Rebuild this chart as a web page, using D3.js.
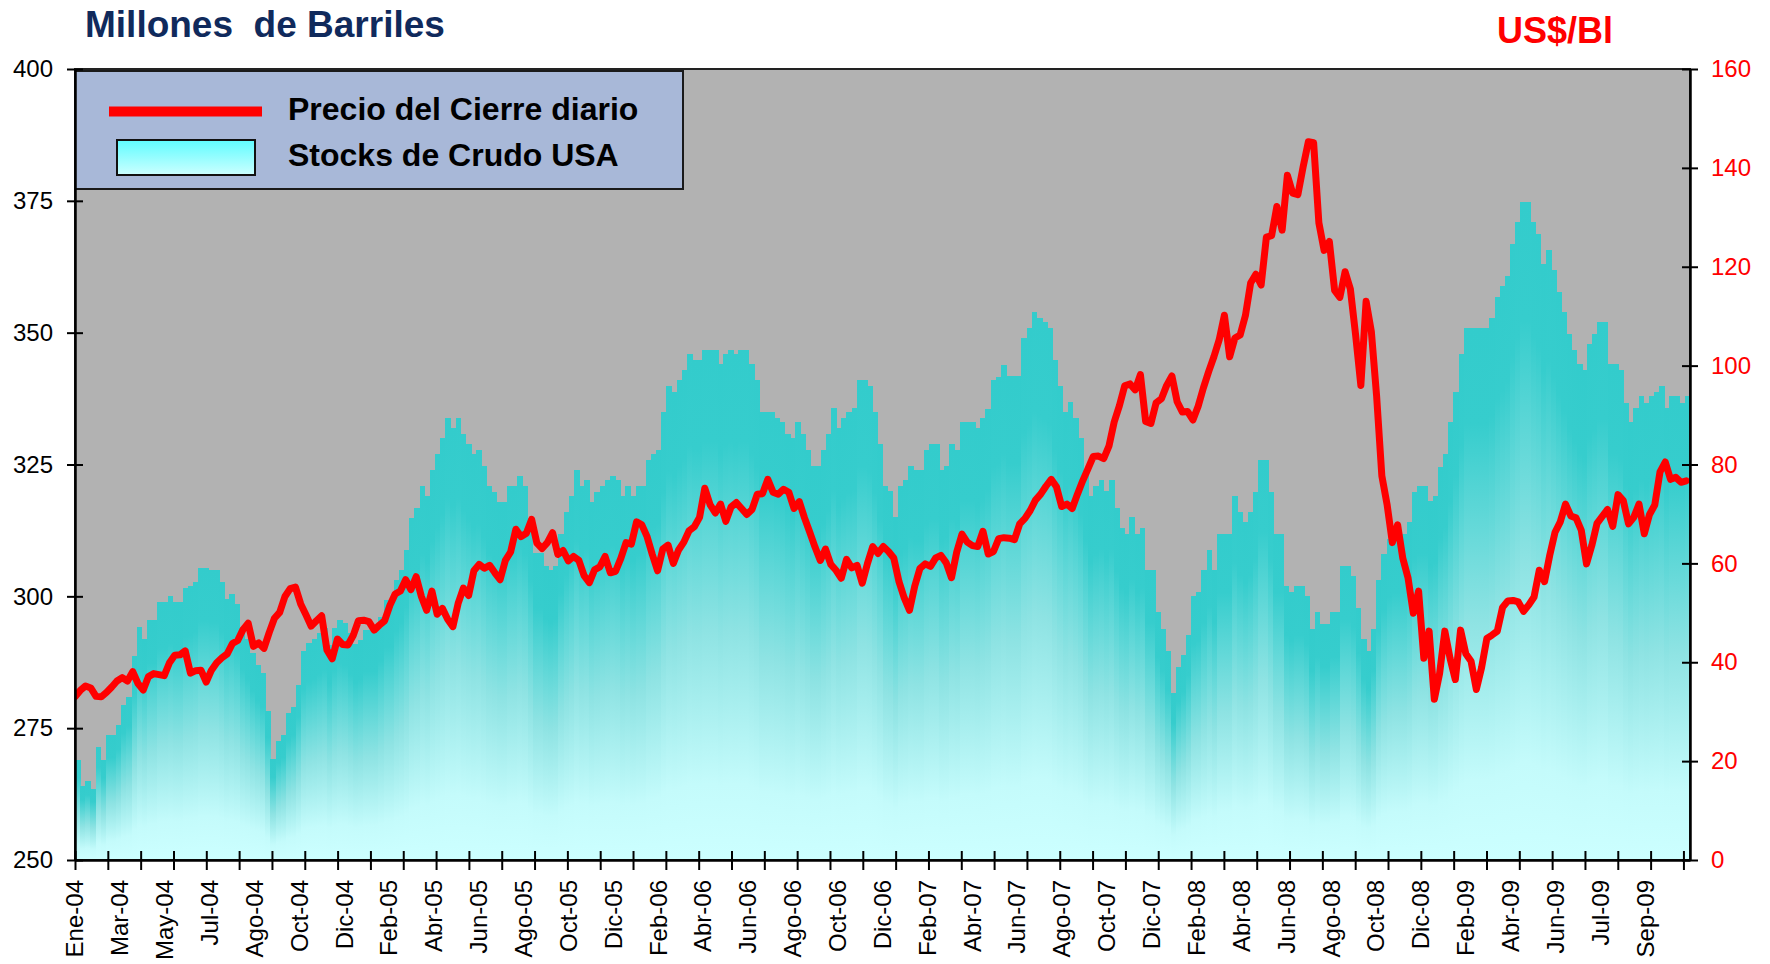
<!DOCTYPE html>
<html>
<head>
<meta charset="utf-8">
<script src="https://cdn.jsdelivr.net/npm/d3@7"></script>
<style>
  html, body { margin: 0; padding: 0; background: #fff; }
  svg { display: block; font-family: "Liberation Sans", Arial, sans-serif; }
</style>
</head>
<body>
<div id="chart"></div>
<script>
const chartTitle = "Millones  de Barriles";
const rightTitle = "US$/Bl";
const legendLabels = ["Precio del Cierre diario", "Stocks de Crudo USA"];

const xLabels = ["Ene-04","Mar-04","May-04","Jul-04","Ago-04","Oct-04","Dic-04",
  "Feb-05","Abr-05","Jun-05","Ago-05","Oct-05","Dic-05",
  "Feb-06","Abr-06","Jun-06","Ago-06","Oct-06","Dic-06",
  "Feb-07","Abr-07","Jun-07","Ago-07","Oct-07","Dic-07",
  "Feb-08","Abr-08","Jun-08","Ago-08","Oct-08","Dic-08",
  "Feb-09","Abr-09","Jun-09","Jul-09","Sep-09"];
const leftTicks = [250, 275, 300, 325, 350, 375, 400];
const rightTicks = [0, 20, 40, 60, 80, 100, 120, 140, 160];

// weekly US crude stocks (millions of barrels)
const stockValues = [
  269, 264, 265, 263.5, 271.5, 269, 273.7, 273.7, 275.6, 279.4, 281, 288.6, 294.1, 291.9,
  295.5, 295.5, 299, 299, 300.1, 299, 299, 301.6, 301.9, 302.8, 305.4, 305.4, 305, 305,
  302.8, 299.4, 300.4, 298.5, 294.2, 292, 289.2, 287, 285.4, 278.3, 269.2, 272.5, 273.7,
  277.8, 279, 283.2, 289.6, 291.2, 291.9, 293, 294, 290.8, 294, 295.6, 295, 293,
  291, 291.8, 293.6, 293.6, 293.6, 296.1, 299.3, 299.3, 303.1, 305, 308.8, 314.8, 316.7,
  320.9, 319, 324, 327, 330, 333.8, 331.9, 333.8, 330.8, 328.9, 327, 327.8, 324.7, 320.9,
  319.7, 317.9, 317.9, 320.9, 320.9, 322.8, 320.9, 314.8, 308.3, 308.3, 305.8, 305, 305.8,
  311.9, 316, 319, 324, 320.9, 322, 317.9, 319.7, 320.9,
  322, 322.8, 322, 319.1, 320.9, 319.1, 320.9, 320.9, 325.9, 327, 327.8, 335, 339.9, 338.7,
  341, 342.9, 346, 344.8, 344.8, 346.7, 346.7, 346.7, 344, 346, 346.7, 346, 346.7, 346.7,
  344, 341, 335, 335, 335, 333.8, 333.1, 330.8, 330, 333.1, 330.8, 327.8, 324.7, 324.7,
  327.8, 330.8, 335.7, 331.9, 333.8, 335, 335.7, 341, 341, 339.9, 335, 328.9,
  320.9, 319.9, 315, 320.9, 322, 324.7, 324, 324, 327.8, 328.9, 328.9, 324, 324.7, 328.9,
  327.8, 333.1, 333.1, 333.1, 331.9, 333.8, 335.6, 341, 341.6, 343.9, 341.8, 341.8, 341.8,
  348.9, 350.8, 353.9, 352.7, 352, 350.8, 344.8, 339.9, 335, 336.9, 333.8, 330, 324, 319,
  320.9, 322, 319.9, 322, 316.8, 313, 311.9, 315, 311.9, 313, 305, 305,
  297, 293.9, 289.6, 281.7, 286.6, 288.9, 292.7, 300, 300.8, 304.9, 308.8, 304.9, 311.8,
  311.8, 311.8, 319, 315.9, 314.1, 315.9, 319.8, 325.9, 325.9, 319.8, 311.8, 311.8, 302,
  300.8, 302, 302, 300, 293.9, 297, 294.7, 294.7, 297, 297, 305.7, 305.7, 303.9, 297.8,
  291.9, 289.7, 293.9, 303.1, 308, 310.8, 311.8, 311.8, 311.8, 314.1, 319.8,
  320.9, 320.9, 318, 319, 324.6, 327, 333, 338.8, 346, 350.9, 350.9, 350.9, 350.9, 350.9,
  352.7, 356.8, 358.9, 360.7, 366.8, 371, 374.8, 374.8, 371, 368.7, 363.1, 365.6, 361.8,
  357.7, 353.9, 349.8, 346.8, 344, 342.9, 347.8, 349.7, 352, 352, 344, 344, 342.9, 336.7,
  333.1, 335.7, 338, 336.7, 338, 338.8, 339.8, 335.7, 338, 338, 336.7, 338
];

// weekly closing price (US$/Bl), one value per Friday from 2 Jan 2004
const price2004 = [33.0, 34.3, 35.2, 34.8, 33.1, 33.0, 33.9, 35.0, 36.2, 36.9, 36.2, 38.1, 35.7,
  34.4, 37.1, 37.7, 37.5, 37.3, 39.9, 41.4, 41.5, 42.3, 37.8, 38.3, 38.4, 36.0,
  38.4, 39.9, 40.9, 41.7, 43.8, 44.4, 46.6, 47.9, 43.2, 43.9, 42.8, 46.0, 48.9,
  50.1, 53.3, 54.9, 55.2, 51.8, 49.6, 47.3, 48.4, 49.4, 42.5, 40.7, 44.7, 43.6, 43.5];
const price2005 = [45.4, 48.4, 48.5, 48.2, 46.5, 47.5, 48.4, 51.5, 53.8, 54.4, 56.7, 54.7,
  57.3, 53.3, 50.5, 54.4, 49.7, 50.9, 48.7, 47.2, 51.9, 55.0, 53.5, 58.5, 59.8,
  59.0, 59.6, 58.1, 56.7, 60.6, 62.3, 66.9, 65.4, 66.1, 68.9, 64.1, 63.0, 64.2, 66.2,
  61.8, 62.6, 60.5, 61.4, 60.6, 57.5, 56.1, 58.7, 59.3, 61.4, 58.1, 58.4, 61.0];
const price2006 = [64.2, 63.9, 68.4, 67.8, 65.4, 61.8, 58.5, 62.9, 63.7, 60.0, 62.7, 64.3, 66.6,
  67.4, 69.3, 75.2, 71.9, 70.2, 72.0, 68.5, 71.4, 72.3, 71.1, 69.9, 70.9, 74.0,
  74.1, 77.0, 74.4, 74.0, 75.0, 74.4, 71.1, 72.5, 69.2, 66.3, 63.3, 60.6, 62.9,
  59.8, 58.6, 57.0, 60.8, 59.1, 59.6, 56.0, 60.0, 63.4, 62.0, 63.4, 62.4, 61.1];
const price2007 = [56.3, 53.0, 50.5, 55.4, 59.0, 59.9, 59.4, 61.1, 61.6, 60.1, 57.1, 62.3, 65.9,
  64.3, 63.6, 63.4, 66.5, 61.9, 62.4, 65.0, 65.2, 65.1, 64.8, 68.0, 69.1, 70.7,
  72.8, 74.0, 75.6, 77.0, 75.5, 71.5, 72.0, 71.1, 74.0, 76.7, 79.1, 81.6, 81.7,
  81.2, 83.7, 88.6, 91.9, 95.9, 96.3, 95.1, 98.2, 88.7, 88.3, 92.5, 93.3, 96.0];
const price2008 = [97.9, 92.7, 90.6, 90.7, 89.0, 91.8, 95.5, 98.8, 101.8, 105.2, 110.2, 101.8, 105.6,
  106.2, 110.1, 116.7, 118.5, 116.3, 126.0, 126.3, 132.2, 127.4, 138.5, 134.9, 134.6, 140.2,
  145.3, 145.1, 128.9, 123.3, 125.1, 115.2, 113.8, 119.0, 115.5, 106.2, 96.0, 113.0, 106.9,
  93.9, 77.7, 71.9, 64.2, 67.8, 61.0, 57.0, 49.9, 54.4, 40.8, 46.3, 32.5, 37.7];
const price2009 = [46.3, 40.8, 36.5, 46.5, 41.7, 40.2, 34.5, 38.9, 44.8, 45.5, 46.3, 51.1, 52.4,
  52.5, 52.2, 50.3, 51.6, 53.2, 58.6, 56.3, 61.7, 66.3, 68.4, 72.0, 69.6, 69.2,
  66.7, 59.9, 63.6, 68.1, 69.5, 70.9, 67.5, 73.9, 72.7, 68.0, 69.3, 72.0, 66.0,
  69.9, 71.8, 78.5, 80.5, 77.0, 77.4, 76.4, 76.7];
const priceValues = [].concat(price2004, price2005, price2006, price2007, price2008, price2009);

const priceStart = new Date(2004, 0, 2);
const axisEnd = new Date(2009, 10, 25);
// category axis of the source sheet: daily rows, a tick every 30, a label every 41
const totalRows = 1476, tickEvery = 30, labelEvery = 41;

const W = 1770, H = 964;
const margin = {top: 69, right: 80, bottom: 104, left: 75};
const plotW = W - margin.left - margin.right;
const plotH = H - margin.top - margin.bottom;

const svg = d3.select("#chart").append("svg")
  .attr("width", W)
  .attr("height", H);

const defs = svg.append("defs");
const grad = defs.append("linearGradient")
  .attr("id", "stockGrad")
  .attr("x1", 0).attr("y1", 0).attr("x2", 0).attr("y2", 1);
[[0, "#33cccc"], [0.18, "#36cdcd"], [0.55, "#8ee3e3"], [0.85, "#c4fbfb"], [1, "#ccffff"]]
  .forEach(s => grad.append("stop").attr("offset", s[0]).attr("stop-color", s[1]));

const legGrad = defs.append("linearGradient")
  .attr("id", "legendGrad")
  .attr("x1", 0).attr("y1", 0).attr("x2", 0).attr("y2", 1);
legGrad.append("stop").attr("offset", 0).attr("stop-color", "#5ffcff");
legGrad.append("stop").attr("offset", 1).attr("stop-color", "#ccffff");

defs.append("clipPath").attr("id", "plotClip")
  .append("rect").attr("width", plotW).attr("height", plotH);

// titles
svg.append("text")
  .attr("x", 85).attr("y", 37)
  .attr("font-size", 37).attr("font-weight", "bold")
  .attr("fill", "#102a5c")
  .style("white-space", "pre")
  .text(chartTitle);

svg.append("text")
  .attr("x", 1497).attr("y", 43)
  .attr("font-size", 36).attr("font-weight", "bold")
  .attr("fill", "#ff0000")
  .text(rightTitle);

const g = svg.append("g")
  .attr("transform", `translate(${margin.left},${margin.top})`);

const yL = d3.scaleLinear().domain([250, 400]).range([plotH, 0]);
const yR = d3.scaleLinear().domain([0, 160]).range([plotH, 0]);
const xRow = d3.scaleLinear().domain([0, totalRows]).range([0, plotW]);
const xTime = d3.scaleTime().domain([priceStart, axisEnd]).range([0, plotW]);
const xBar = d3.scaleLinear().domain([0, stockValues.length]).range([0, plotW]);

g.append("rect")
  .attr("width", plotW).attr("height", plotH)
  .attr("fill", "#b2b2b2");

const plot = g.append("g").attr("clip-path", "url(#plotClip)");

// stock bars, each with its own top-to-bottom gradient
plot.selectAll("rect.stock")
  .data(stockValues)
  .enter()
  .append("rect")
  .attr("class", "stock")
  .attr("x", (d, i) => xBar(i))
  .attr("y", d => yL(d))
  .attr("width", xBar(1) - xBar(0) + 0.6)
  .attr("height", d => plotH - yL(d))
  .attr("fill", "url(#stockGrad)")
  .attr("shape-rendering", "crispEdges");

// price line
const priceLine = d3.line()
  .x((d, i) => xTime(d3.timeDay.offset(priceStart, 7 * i)))
  .y(d => yR(d));

plot.append("path")
  .datum(priceValues)
  .attr("d", priceLine)
  .attr("fill", "none")
  .attr("stroke", "#ff0000")
  .attr("stroke-width", 7)
  .attr("stroke-linejoin", "round")
  .attr("stroke-linecap", "round");

g.append("rect")
  .attr("width", plotW).attr("height", plotH)
  .attr("fill", "none")
  .attr("stroke", "#222")
  .attr("stroke-width", 2);

// legend
const leg = g.append("g").attr("transform", "translate(0,2)");
leg.append("rect")
  .attr("width", 608).attr("height", 118)
  .attr("fill", "#a8b8d8")
  .attr("stroke", "#1a1a1a")
  .attr("stroke-width", 2);
leg.append("line")
  .attr("x1", 34).attr("x2", 187)
  .attr("y1", 40.5).attr("y2", 40.5)
  .attr("stroke", "#ff0000")
  .attr("stroke-width", 10);
leg.append("rect")
  .attr("x", 42).attr("y", 69)
  .attr("width", 138).attr("height", 35)
  .attr("fill", "url(#legendGrad)")
  .attr("stroke", "#111")
  .attr("stroke-width", 2);
leg.selectAll("text.leg")
  .data(legendLabels)
  .enter()
  .append("text")
  .attr("class", "leg")
  .attr("x", 213)
  .attr("y", (d, i) => 49 + i * 46)
  .attr("font-size", 32)
  .attr("font-weight", "bold")
  .attr("fill", "#000")
  .text(d => d);

// left axis
const axL = g.append("g")
  .call(d3.axisLeft(yL).tickValues(leftTicks).tickSize(8).tickSizeOuter(0).tickPadding(14));
axL.attr("font-size", 24).attr("font-family", null);
axL.select(".domain").attr("stroke", "#000").attr("stroke-width", 2.5);
axL.selectAll(".tick line").attr("x1", 8).attr("stroke", "#000").attr("stroke-width", 2);
axL.selectAll(".tick text").attr("fill", "#000");

// right axis
const axR = g.append("g")
  .attr("transform", `translate(${plotW},0)`)
  .call(d3.axisRight(yR).tickValues(rightTicks).tickSize(8).tickSizeOuter(0).tickPadding(13));
axR.attr("font-size", 24).attr("font-family", null);
axR.select(".domain").attr("stroke", "#000").attr("stroke-width", 2.5);
axR.selectAll(".tick line").attr("x1", -8).attr("stroke", "#000").attr("stroke-width", 2);
axR.selectAll(".tick text").attr("fill", "#ff0000");

// bottom axis: ticks
const axB = g.append("g")
  .attr("transform", `translate(0,${plotH})`)
  .call(d3.axisBottom(xRow).tickValues(d3.range(0, totalRows, tickEvery)).tickSize(10).tickSizeOuter(0).tickFormat(""));
axB.select(".domain").attr("stroke", "#000").attr("stroke-width", 2.5);
axB.selectAll(".tick line").attr("y1", -9).attr("stroke", "#000").attr("stroke-width", 2);

// bottom axis: rotated labels
g.append("g")
  .selectAll("text")
  .data(xLabels)
  .enter()
  .append("text")
  .attr("transform", (d, i) => `translate(${xRow(i * labelEvery)},${plotH + 20}) rotate(-90)`)
  .attr("text-anchor", "end")
  .attr("dy", "0.35em")
  .attr("font-size", 24)
  .attr("fill", "#000")
  .text(d => d);
</script>
</body>
</html>
